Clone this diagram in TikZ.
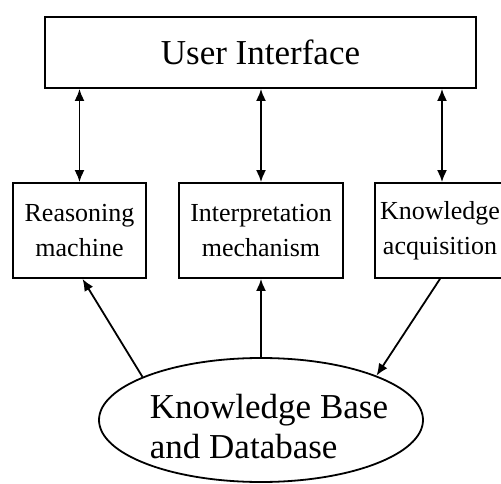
\documentclass[tikz,border=0pt]{standalone}
\usepackage{fontspec}
\setmainfont{Liberation Serif}
\usetikzlibrary{arrows.meta,shapes.geometric}
\begin{document}
\begin{tikzpicture}[x=1pt,y=-1pt,
  box/.style={draw,line width=1.8pt,rectangle,inner sep=0pt,align=center,
    font=\fontsize{26}{35}\selectfont},
  conn/.style={line width=1.8pt,{Latex[length=12pt,width=10pt]}-{Latex[length=12pt,width=10pt]}},
  arr/.style={line width=1.8pt,-{Latex[length=12pt,width=10pt]}}]
\useasboundingbox (0,0) rectangle (501,484);
\clip (0,0) rectangle (501,484);
\node[box,minimum width=431pt,minimum height=71pt,font=\fontsize{35}{40}\selectfont] (ui) at (260.5,52.5) {User Interface};
\node[box,minimum width=133pt,minimum height=95pt] (rm) at (79.5,230.5) {Reasoning\\machine};
\node[box,minimum width=164pt,minimum height=95pt] (im) at (261,230.5) {Interpretation\\mechanism};
\node[box,minimum width=134pt,minimum height=95pt] (kabox) at (442,230.5) {};
\node[align=center,inner sep=0pt,font=\fontsize{26}{35}\selectfont] (ka) at (440,230.5) {Knowledge\\acquisition};
\node[draw,ellipse,line width=1.8pt,minimum width=324pt,minimum height=124pt,inner sep=0pt] (kb) at (261,420) {};
\node[align=left,inner sep=0pt,font=\fontsize{35}{40}\selectfont] (kbt) at (269,427) {Knowledge Base\\and Database};
\draw[conn] (rm.north) -- (rm.north |- ui.south);
\draw[conn] (im.north) -- (im.north |- ui.south);
\draw[conn] (kabox.north) -- (kabox.north |- ui.south);
\draw[arr] (kb.160) -- ([xshift=3pt]rm.south);
\draw[arr] (kb.north) -- (im.south);
\draw[arr] ([xshift=-2pt]kabox.south) -- (kb.21);
\end{tikzpicture}
\end{document}
